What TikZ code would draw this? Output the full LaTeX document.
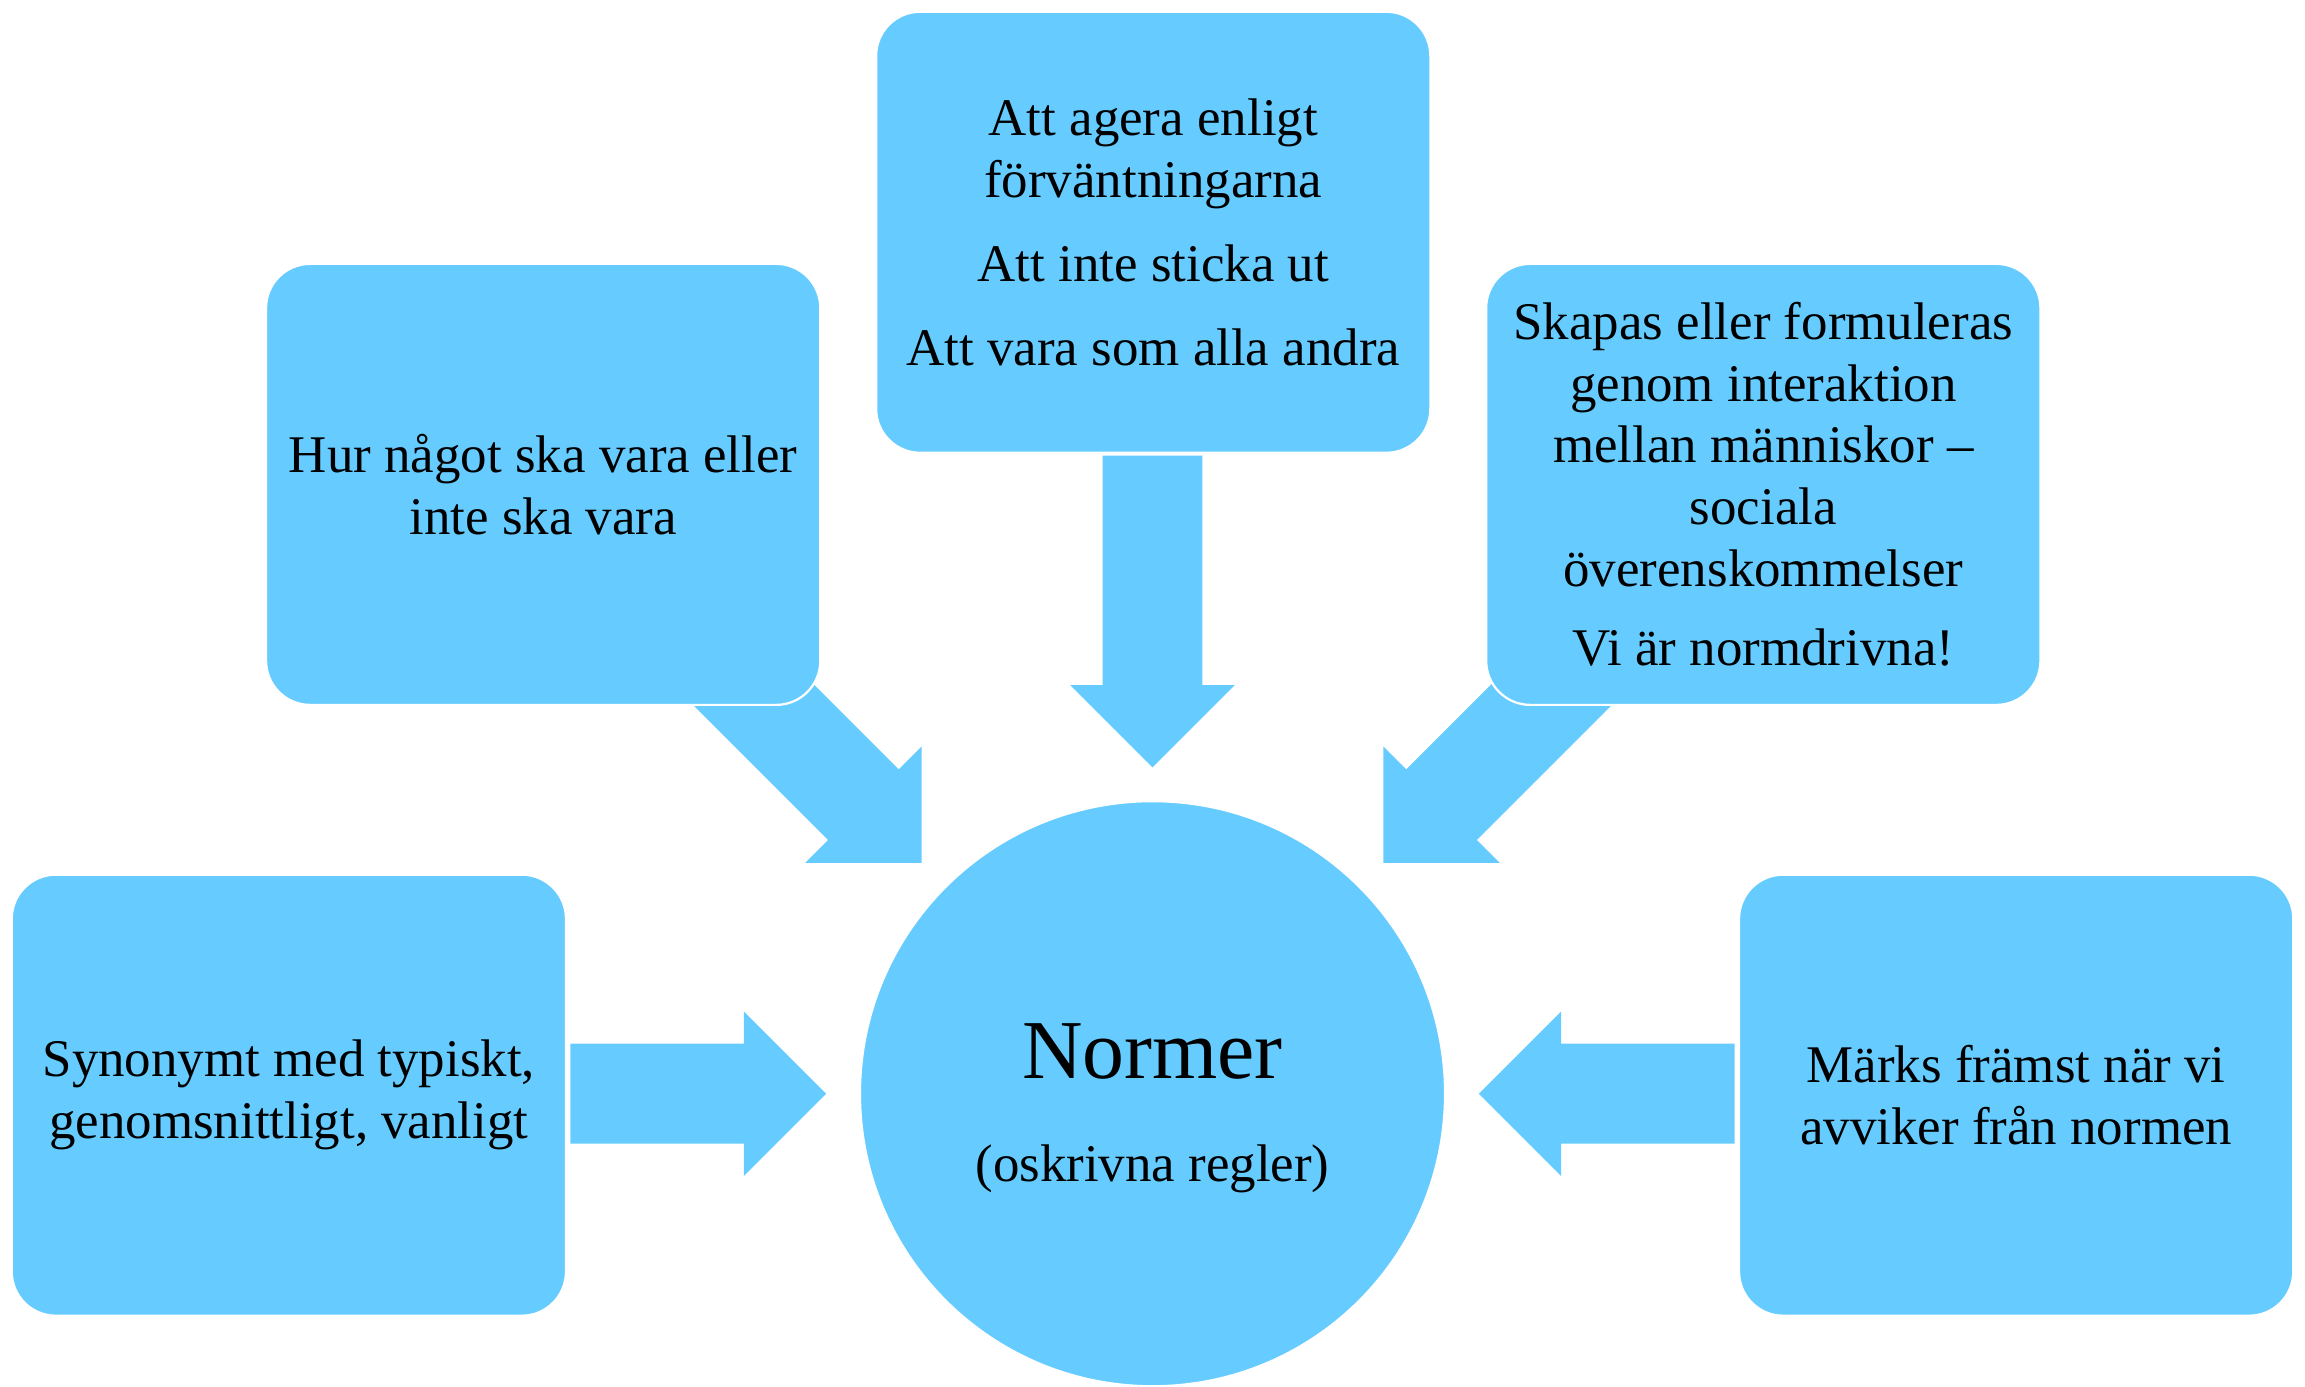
\documentclass[tikz,border=0pt]{standalone}
\usepackage{fontspec}
\setmainfont{Liberation Serif}
\definecolor{nblue}{HTML}{66CCFF}
\newcommand{\blockarrow}[3]{%
  \fill[nblue, shift={#1}, rotate=#2] (0,0) -- (-56,56) -- (-56,34) -- (-#3,34) -- (-#3,-34) -- (-56,-34) -- (-56,-56) -- cycle;}
\begin{document}
\begin{tikzpicture}[x=1pt,y=-1pt,
  box/.style={fill=nblue, draw=white, line width=1.5pt, rounded corners=30pt,
    minimum width=377pt, minimum height=300pt, inner sep=0pt, align=center,
    text=black, font=\fontsize{36}{42}\selectfont},
  hub/.style={circle, fill=nblue, draw=white, line width=1.5pt, minimum size=398pt,
    inner sep=0pt},
  hubtext/.style={inner sep=0pt, align=center, text=black, font=\fontsize{36}{42}\selectfont}]
\useasboundingbox (0,0) rectangle (1568,943);
% block arrows
\coordinate (tipT) at (784,522);
\coordinate (tipUL) at (627,587);
\coordinate (tipUR) at (941,587);
\coordinate (tipL) at (562,744);
\coordinate (tipR) at (1006,744);
\blockarrow{(tipT)}{-90}{212}
\blockarrow{(tipUL)}{-45}{196}
\blockarrow{(tipUR)}{-135}{196}
\blockarrow{(tipL)}{0}{174}
\blockarrow{(tipR)}{180}{174}
% boxes
\node[box] (top) at (784.5,158) {Att agera enligt\\förväntningarna\\[15pt]Att inte sticka ut\\[15pt]Att vara som alla andra};
\node[box] (ul) at (369.5,329.5) {Hur något ska vara eller\\inte ska vara};
\node[box] (ur) at (1199.5,329.5) {Skapas eller formuleras\\genom interaktion\\mellan människor –\\sociala\\överenskommelser\\[12pt]Vi är normdrivna!};
\node[box] (ll) at (196.5,745) {Synonymt med typiskt,\\genomsnittligt, vanligt};
\node[box] (lr) at (1371.5,745) {Märks främst när vi\\avviker från normen};
\node[hub] (normer) at (784,744) {};
\node[hubtext] (normerlabel) at ([yshift=-10pt]normer.center) {{\fontsize{57}{70}\selectfont Normer}\\[28pt](oskrivna regler)};
\end{tikzpicture}
\end{document}
